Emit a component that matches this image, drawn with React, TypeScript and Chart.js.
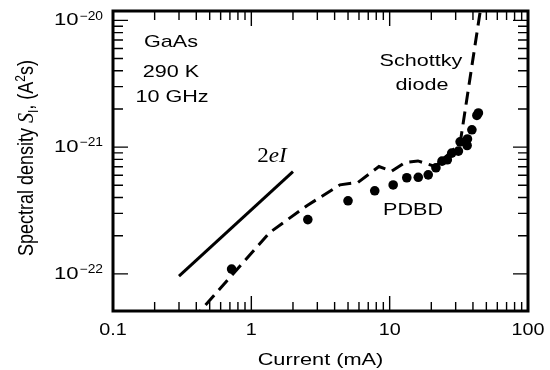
import React, { useEffect, useRef } from 'react';
import { Chart, registerables } from 'chart.js';

Chart.register(...registerables);

// ---- data (current in mA, spectral density in A^2 s) ----
const pdbdCurrent = [0.72, 2.56, 5.0, 7.8, 10.6, 13.3, 16.1, 19.0, 21.6, 23.9, 26.1, 28.1, 31.4, 32.3, 36.3, 36.5, 39.3, 42.7, 43.8];
const pdbdDensity = [1.09e-22, 2.68e-22, 3.77e-22, 4.52e-22, 5.03e-22, 5.73e-22, 5.78e-22, 6.04e-22, 6.87e-22, 7.75e-22, 7.95e-22, 8.97e-22, 9.3e-22, 1.1e-21, 1.03e-21, 1.16e-21, 1.37e-21, 1.78e-21, 1.86e-21];

const schottkyCurrent = [0.3, 1.36, 2.52, 4.38, 5.9, 8.37, 10.35, 12.9, 16.0, 21.3, 32.3, 45.5];
const schottkyDensity = [3.3e-23, 2.12e-22, 3.45e-22, 5.04e-22, 5.26e-22, 7.03e-22, 6.46e-22, 7.56e-22, 7.78e-22, 7.03e-22, 1.07e-21, 1.25e-20];

const shotCurrent = [0.3, 2];
const shotDensity = [9.6e-23, 6.4e-22];

const xMin = 0.1;
const xMax = 100;
const yMin = 5.09e-23;
const yMax = 1.186e-20;

const xTickValues = [0.1, 1, 10, 100];
const xTickLabels = ['0.1', '1', '10', '100'];
const yTickExponents = [-22, -21, -20];
const yTickBases = ['10', '10', '10'];
const yTickSupers = ['\u221222', '\u221221', '\u221220'];

const xMinorDecades = [0.1, 1, 10];
const yMinorDecades = [1e-22, 1e-21];
const minorMultipliers = [2, 3, 4, 5, 6, 7, 8, 9];

const annotationTexts = ['GaAs', '290 K', '10 GHz', 'Schottky', 'diode', 'PDBD'];

const SANS = '"Liberation Sans", Arial, Helvetica, sans-serif';
const SERIF = '"Liberation Serif", "Times New Roman", serif';
const STRETCH = 1.27;

function stretchedText(ctx: CanvasRenderingContext2D, text: string, x: number, y: number, font: string, align: CanvasTextAlign, sx: number, baseline: CanvasTextBaseline = 'middle') {
  ctx.save();
  ctx.translate(x, y);
  ctx.scale(sx, 1);
  ctx.font = font;
  ctx.textAlign = align;
  ctx.textBaseline = baseline;
  ctx.fillStyle = '#000';
  ctx.fillText(text, 0, 0);
  ctx.restore();
}

const decorPlugin = {
  id: 'decor',
  afterDraw(chart: any) {
    const ctx: CanvasRenderingContext2D = chart.ctx;
    const { left, right, top, bottom } = chart.chartArea;
    const xs = chart.scales.x;
    const ys = chart.scales.y;
    ctx.save();
    ctx.strokeStyle = '#000';
    ctx.lineCap = 'butt';

    // inward ticks
    ctx.lineWidth = 1.4;
    const majorLen = 15;
    const minorLen = 9;
    const vTick = (px: number, len: number) => {
      ctx.beginPath();
      ctx.moveTo(px, bottom);
      ctx.lineTo(px, bottom - len);
      ctx.moveTo(px, top);
      ctx.lineTo(px, top + len);
      ctx.stroke();
    };
    const hTick = (py: number, len: number) => {
      ctx.beginPath();
      ctx.moveTo(left, py);
      ctx.lineTo(left + len, py);
      ctx.moveTo(right, py);
      ctx.lineTo(right - len, py);
      ctx.stroke();
    };
    xMinorDecades.forEach((d) => minorMultipliers.forEach((m) => vTick(xs.getPixelForValue(m * d), minorLen)));
    [1, 10].forEach((v) => vTick(xs.getPixelForValue(v), majorLen));
    yMinorDecades.forEach((d) => minorMultipliers.forEach((m) => hTick(ys.getPixelForValue(m * d), minorLen + 1)));
    yTickExponents.forEach((e) => hTick(ys.getPixelForValue(Math.pow(10, e)), majorLen));

    // frame
    ctx.lineWidth = 3;
    ctx.strokeRect(left, top, right - left, bottom - top);
    ctx.restore();

    // x tick labels
    xTickValues.forEach((v, i) => {
      stretchedText(ctx, xTickLabels[i], xs.getPixelForValue(v), bottom + 19, `16.5px ${SANS}`, 'center', 1.2);
    });
    // x title
    stretchedText(ctx, 'Current (mA)', (left + right) / 2, 360, `17px ${SANS}`, 'center', 1.28);

    // y tick labels with superscript exponent
    yTickExponents.forEach((e, i) => {
      const py = ys.getPixelForValue(Math.pow(10, e));
      const edge = left - 10;
      ctx.save();
      ctx.font = `12px ${SANS}`;
      const supW = ctx.measureText(yTickSupers[i]).width * 1.15;
      ctx.restore();
      stretchedText(ctx, yTickSupers[i], edge, py - 4, `12px ${SANS}`, 'right', 1.15);
      stretchedText(ctx, yTickBases[i], edge - supW - 1, py, `17px ${SANS}`, 'right', 1.3);
    });

    // y title (rotated, mixed fonts)
    const pieces = [
      { t: 'Spectral density ', f: `18px ${SANS}`, dy: 0 },
      { t: 'S', f: `italic 20px ${SERIF}`, dy: 0 },
      { t: 'I', f: `12px ${SANS}`, dy: 4 },
      { t: ', (A', f: `18px ${SANS}`, dy: 0 },
      { t: '2', f: `12px ${SANS}`, dy: -7 },
      { t: 's)', f: `18px ${SANS}`, dy: 0 },
    ];
    ctx.save();
    let total = 0;
    const widths = pieces.map((p) => {
      ctx.font = p.f;
      const w = ctx.measureText(p.t).width;
      total += w;
      return w;
    });
    ctx.translate(33, 158);
    ctx.rotate(-Math.PI / 2);
    ctx.scale(1, 1.2);
    ctx.fillStyle = '#000';
    ctx.textBaseline = 'alphabetic';
    ctx.textAlign = 'left';
    let u = -total / 2;
    pieces.forEach((p, i) => {
      ctx.font = p.f;
      ctx.fillText(p.t, u, p.dy);
      u += widths[i];
    });
    ctx.restore();

    // annotations
    const annPos = [
      [171, 42], [171, 72], [172, 97], [421, 61], [422, 85], [413, 210],
    ];
    annotationTexts.forEach((t, i) => {
      stretchedText(ctx, t, annPos[i][0], annPos[i][1], `17px ${SANS}`, 'center', STRETCH);
    });

    // 2eI label
    ctx.save();
    ctx.font = `21px ${SERIF}`;
    const w2 = ctx.measureText('2').width;
    ctx.font = `italic 21px ${SERIF}`;
    const wE = ctx.measureText('eI').width;
    ctx.restore();
    const tot = (w2 + wE) * 1.1;
    const x0 = 272 - tot / 2;
    stretchedText(ctx, '2', x0, 162, `21px ${SERIF}`, 'left', 1.1, 'alphabetic');
    stretchedText(ctx, 'eI', x0 + w2 * 1.1, 162, `italic 21px ${SERIF}`, 'left', 1.1, 'alphabetic');
  },
};

export default function App() {
  const canvasRef = useRef<HTMLCanvasElement | null>(null);

  useEffect(() => {
    const canvas = canvasRef.current;
    if (!canvas) return;
    const toPts = (xsArr: number[], ysArr: number[]) => xsArr.map((x, i) => ({ x, y: ysArr[i] }));
    const chart = new Chart(canvas, {
      type: 'scatter',
      data: {
        datasets: [
          {
            label: 'Schottky diode',
            data: toPts(schottkyCurrent, schottkyDensity),
            showLine: true,
            borderColor: '#000',
            borderWidth: 3,
            borderDash: [13, 7],
            pointRadius: 0,
            tension: 0,
            fill: false,
          },
          {
            label: '2eI',
            data: toPts(shotCurrent, shotDensity),
            showLine: true,
            borderColor: '#000',
            borderWidth: 3,
            pointRadius: 0,
            fill: false,
          },
          {
            label: 'PDBD',
            data: toPts(pdbdCurrent, pdbdDensity),
            showLine: false,
            backgroundColor: '#000',
            borderColor: '#000',
            borderWidth: 0,
            pointRadius: 4.8,
          },
        ],
      },
      options: {
        responsive: false,
        animation: false,
        devicePixelRatio: 1,
        layout: { padding: { top: 11, right: 22, left: 0, bottom: 0 } },
        plugins: { legend: { display: false }, tooltip: { enabled: false } },
        scales: {
          x: {
            type: 'logarithmic',
            min: xMin,
            max: xMax,
            grid: { display: false },
            border: { display: false },
            ticks: { display: false },
            afterFit: (s: any) => { s.height = 59; },
          },
          y: {
            type: 'logarithmic',
            min: yMin,
            max: yMax,
            grid: { display: false },
            border: { display: false },
            ticks: { display: false },
            afterFit: (s: any) => { s.width = 113; },
          },
        },
      },
      plugins: [decorPlugin],
    } as any);
    return () => chart.destroy();
  }, []);

  return (
    <div style={{ position: 'absolute', left: 0, top: 0, width: 550, height: 370, background: '#fff' }}>
      <canvas ref={canvasRef} width={550} height={370} style={{ display: 'block' }} />
    </div>
  );
}
